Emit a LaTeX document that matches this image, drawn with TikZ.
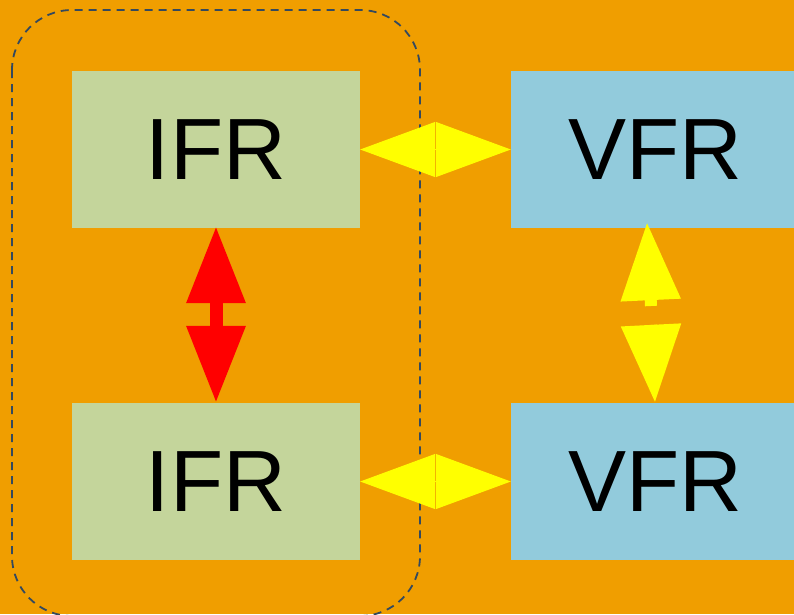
\documentclass[tikz,border=0pt]{standalone}
\usepackage{fontspec}
\setmainfont{Liberation Sans}
\usepackage{tikz}
\usetikzlibrary{arrows.meta,positioning}
\definecolor{bgorange}{HTML}{F09E00}
\definecolor{ifrgreen}{HTML}{C4D59B}
\definecolor{vfrblue}{HTML}{92CBDC}
\definecolor{groupline}{HTML}{34495E}
\definecolor{linkyellow}{HTML}{FFFF00}
\definecolor{linkred}{HTML}{FF0000}

\begin{document}
\begin{tikzpicture}[x=1pt,y=-1pt,inner sep=0pt,
  box/.style={minimum width=288pt,minimum height=157pt,font=\fontsize{87}{87}\selectfont},
  ifrbox/.style={box,fill=ifrgreen},
  vfrbox/.style={box,fill=vfrblue},
  link/.style={linkyellow,line width=1pt,{Triangle[length=75pt,width=55pt]}-{Triangle[length=75pt,width=55pt]}},
  redlink/.style={linkred,line width=13pt,{Triangle[length=77pt,width=56pt]}-{Triangle[length=77pt,width=56pt]}},
  halflink/.style={linkyellow,line width=12pt,-{Triangle[length=78pt,width=57pt]}}]
\fill[bgorange] (0,0) rectangle (794,614);
\useasboundingbox (0,0) rectangle (794,614);
\coordinate (T) at (216,149.5);
\coordinate (B) at (216,481.5);
\node (ifrtop) at (T) [ifrbox] {IFR};
\node (ifrbot) at (B) [ifrbox] {IFR};
\node (vfrtop) at (655,149.5) [vfrbox] {VFR};
\node (vfrbot) at (655,481.5) [vfrbox] {VFR};
\draw[groupline,line width=1.8pt,dash pattern=on 8pt off 6pt,rounded corners=60pt]
  (12,10) rectangle (420,616);
\draw[link] (ifrtop.east) -- (vfrtop.west);
\draw[link] (ifrbot.east) -- (vfrbot.west);
\draw[redlink] ([yshift=2pt]ifrtop.south) -- (ifrbot.north);
\coordinate (gapA) at (651,306);
\coordinate (gapB) at (651,325);
\draw[halflink] (gapA) -- ([shift={(-8,-6)}]vfrtop.south);
\draw[halflink] (gapB) -- (vfrbot.north);
\end{tikzpicture}
\end{document}
